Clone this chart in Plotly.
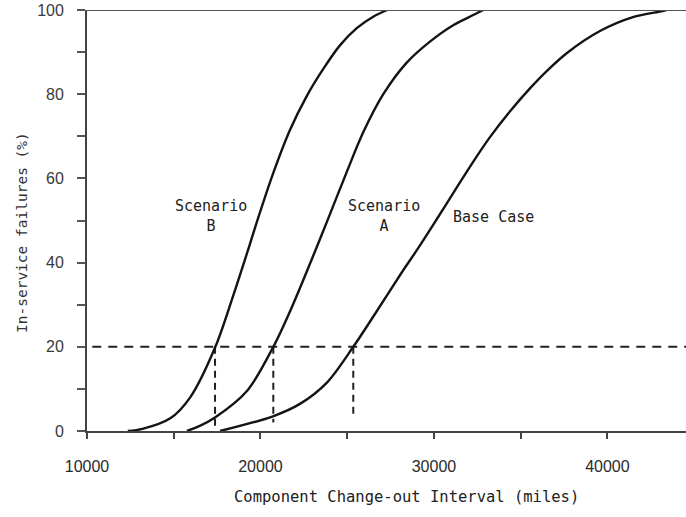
import plotly.graph_objects as go

# ---- data ----
miles_b = [12350, 13200, 14800, 15950, 17400, 18400, 19400, 19780, 20740, 21700,
           22660, 23620, 24580, 25550, 26500, 27300]
fail_b = [0, 0.5, 3.0, 8.0, 20, 31.8, 44.5, 49.5, 61.3, 71.5,
          79.5, 86.0, 91.6, 95.7, 98.4, 100]

miles_a = [15760, 16500, 17380, 19220, 20740, 21870, 23030, 23910, 24970, 25930,
           27080, 28430, 29770, 31110, 32270, 32840]
fail_a = [0, 1.2, 3.2, 9.5, 20, 30, 41.5, 50.5, 61.5, 71,
          80, 87.5, 92.5, 96.4, 98.8, 100]

miles_base = [17670, 20720, 22300, 23830, 25350, 26710, 28040, 29100, 30160, 31310,
              32270, 33230, 34400, 35560, 36500, 37670, 39570, 41470, 43100, 43400]
fail_base = [0, 3.5, 6.5, 11.5, 20, 28.5, 37, 43.5, 50.3, 57.8,
             64, 69.8, 76, 81.5, 85.5, 89.8, 95, 98.3, 99.7, 100]

threshold = 20
threshold_span = [10300, 44600]
crossing_miles = [17380, 20740, 25350]
crossing_low = [0.7, 2, 3]

x_tick_vals = [10000, 20000, 30000, 40000]
x_tick_text = ["10000", "20000", "30000", "40000"]
y_tick_vals = [0, 20, 40, 60, 80, 100]
y_tick_text = ["0", "20", "40", "60", "80", "100"]

curve_names = ["Scenario B", "Scenario A", "Base Case"]

# ---- figure ----
mono = "DejaVu Sans Mono"
sans = "Liberation Sans"
ink = "#141414"

fig = go.Figure()

# threshold line
fig.add_trace(go.Scatter(x=threshold_span, y=[threshold, threshold], mode="lines",
                         line=dict(color="#222", width=2, dash="9px,7px"),
                         hoverinfo="skip", showlegend=False))
# vertical drop lines
for m, lo in zip(crossing_miles, crossing_low):
    fig.add_trace(go.Scatter(x=[m, m], y=[threshold, lo], mode="lines",
                             line=dict(color="#222", width=2, dash="7px,5px"),
                             hoverinfo="skip", showlegend=False))

for name, xs, ys in zip(curve_names, [miles_b, miles_a, miles_base],
                        [fail_b, fail_a, fail_base]):
    fig.add_trace(go.Scatter(x=xs, y=ys, mode="lines", name=name,
                             line=dict(color=ink, width=2.4, shape="spline",
                                       smoothing=0.9),
                             showlegend=False))

# top border line at 100
fig.add_shape(type="line", xref="paper", yref="y", x0=-0.013, x1=1, y0=100, y1=100,
              line=dict(color="#555", width=1.8))

fig.update_xaxes(range=[10000, 44530], showline=True, linecolor="#444", linewidth=1.8,
                 showgrid=False, zeroline=False,
                 tickvals=x_tick_vals, ticktext=x_tick_text,
                 ticks="outside", ticklen=6, tickwidth=1.5, tickcolor="#444",
                 minor=dict(dtick=5000, tick0=0, ticks="outside", ticklen=6,
                            tickwidth=1.5, tickcolor="#444"),
                 tickfont=dict(family=sans, size=16, color="#2a2a2a"),
                 ticklabelstandoff=14)
fig.update_yaxes(range=[0, 100], showline=True, linecolor="#444", linewidth=1.8,
                 showgrid=False, zeroline=False,
                 tickvals=y_tick_vals, ticktext=y_tick_text,
                 ticks="outside", ticklen=8, tickwidth=1.5, tickcolor="#555",
                 minor=dict(dtick=10, tick0=0, ticks="outside", ticklen=8,
                            tickwidth=1.5, tickcolor="#555"),
                 tickfont=dict(family=sans, size=16, color="#3a3a3a"),
                 ticklabelstandoff=10)

annos = [
    dict(x=17147, y=51, text="Scenario<br>B"),
    dict(x=27118, y=51, text="Scenario<br>A"),
    dict(x=33458, y=50.8, text="Base Case"),
]
for a in annos:
    fig.add_annotation(x=a["x"], y=a["y"], text=a["text"], showarrow=False,
                       xref="x", yref="y", xanchor="center", yanchor="middle",
                       font=dict(family=mono, size=15, color="#222"))

fig.add_annotation(text="Component Change-out Interval (miles)", showarrow=False,
                   xref="paper", yref="paper", x=(406 - 87) / 599, y=0,
                   yshift=-66, xanchor="center", yanchor="middle",
                   font=dict(family=mono, size=15.5, color="#222"))
fig.add_annotation(text="In-service failures (%)", showarrow=False, textangle=-90,
                   xref="paper", yref="paper", x=0, xshift=-65, y=(431 - 233) / 421,
                   xanchor="center", yanchor="middle",
                   font=dict(family=mono, size=14.5, color="#333"))

fig.update_layout(width=686, height=517, margin=dict(l=87, r=0, t=10, b=86),
                  paper_bgcolor="white", plot_bgcolor="white")

fig.write_html("out.html")
